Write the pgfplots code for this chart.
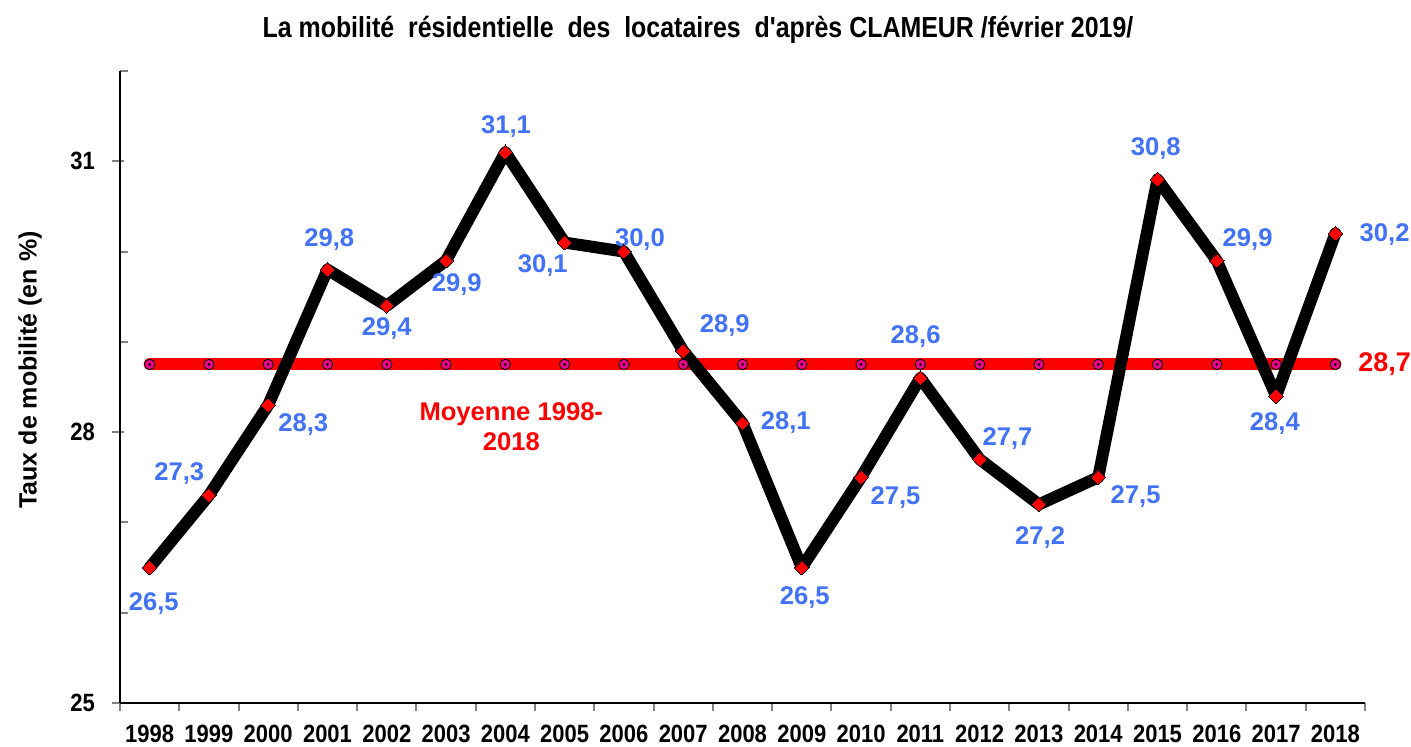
\documentclass[border=0pt]{standalone}
\usepackage{fontspec}
\setmainfont{Liberation Sans}
\newfontfamily\narrow[FakeStretch=0.88]{Liberation Sans}
\newfontfamily\titlefont[FakeStretch=0.86]{Liberation Sans}
\usepackage{pgfplots}
\pgfplotsset{compat=1.18}
\definecolor{lblue}{RGB}{66,114,245}
\tikzset{lbl/.style={font=\bfseries\fontsize{12.8}{15}\selectfont, text=lblue}}

\pgfplotstableread{
i v
0 26.5
1 27.3
2 28.3
3 29.8
4 29.4
5 29.9
6 31.1
7 30.1
8 30.0
9 28.9
10 28.1
11 26.5
12 27.5
13 28.6
14 27.7
15 27.2
16 27.5
17 30.8
18 29.9
19 28.4
20 30.2
}\datatable

\pgfplotstableread{
i m
0 28.75
1 28.75
2 28.75
3 28.75
4 28.75
5 28.75
6 28.75
7 28.75
8 28.75
9 28.75
10 28.75
11 28.75
12 28.75
13 28.75
14 28.75
15 28.75
16 28.75
17 28.75
18 28.75
19 28.75
20 28.75
}\meantable

\begin{document}
\begin{tikzpicture}
\begin{axis}[
  at={(0,0)}, anchor=south west,
  scale only axis, width=622.5pt, height=316pt,
  xmin=-0.5, xmax=20.5, ymin=25, ymax=32,
  clip=false,
  axis x line*=bottom, axis y line*=left,
  axis line style={line width=1pt, -},
  tick align=outside,
  xtick={0,...,20},
  xticklabels={1998,1999,2000,2001,2002,2003,2004,2005,2006,2007,2008,2009,2010,2011,2012,2013,2014,2015,2016,2017,2018},
  major x tick style={draw=none},
  minor xtick={-0.5,0.5,...,20.5},
  minor x tick style={line width=1pt},
  minor tick length=4pt,
  ytick={25,28,31},
  minor ytick={26,27,29,30,32},
  major tick length=6pt,
  major y tick style={line width=1pt, xshift=2pt},
  minor y tick style={line width=1pt, xshift=4pt},
  tick label style={font=\narrow\bfseries\fontsize{12.5}{14}\selectfont},
  /pgf/number format/assume math mode=true,
  yticklabel style={xshift=-3pt},
  xticklabel style={yshift=-1.5pt},
]
\addplot[red, line width=6pt, line cap=round] table[x=i, y=m] {\meantable};
\addplot[black, line width=6pt, line join=round, line cap=round,
  mark=square*, mark size=2.6pt, mark options={fill=red, draw=none, rotate=45, line width=0pt}]
  table[x=i, y=v] {\datatable};
\addplot[only marks, mark=*, mark size=2.6pt, mark options={fill=magenta, draw=none}]
  table[x=i, y=m] {\meantable};
\addplot[only marks, mark=*, mark size=0.45pt, mark options={fill=black, draw=none}]
  table[x=i, y=m] {\meantable};

\node[lbl] at (axis cs:0.07,26.10) {26,5};
\node[lbl] at (axis cs:0.50,27.54) {27,3};
\node[lbl] at (axis cs:2.59,28.08) {28,3};
\node[lbl] at (axis cs:3.03,30.13) {29,8};
\node[lbl] at (axis cs:4.00,29.15) {29,4};
\node[lbl] at (axis cs:5.18,29.63) {29,9};
\node[lbl] at (axis cs:6.01,31.38) {31,1};
\node[lbl] at (axis cs:6.63,29.85) {30,1};
\node[lbl] at (axis cs:8.27,30.13) {30,0};
\node[lbl] at (axis cs:9.70,29.18) {28,9};
\node[lbl] at (axis cs:10.73,28.11) {28,1};
\node[lbl] at (axis cs:11.05,26.17) {26,5};
\node[lbl] at (axis cs:12.58,27.28) {27,5};
\node[lbl] at (axis cs:12.92,29.06) {28,6};
\node[lbl] at (axis cs:14.47,27.93) {27,7};
\node[lbl] at (axis cs:15.02,26.83) {27,2};
\node[lbl] at (axis cs:16.63,27.29) {27,5};
\node[lbl] at (axis cs:16.97,31.14) {30,8};
\node[lbl] at (axis cs:18.52,30.13) {29,9};
\node[lbl] at (axis cs:18.98,28.09) {28,4};
\node[lbl] at (axis cs:20.83,30.19) {30,2};
\node[font=\bfseries\fontsize{13.5}{15}\selectfont, text=red] at (axis cs:20.83,28.75) {28,7};
\node[font=\bfseries\fontsize{12.8}{15}\selectfont, text=red, align=center] at (axis cs:6.10,28.06) {Moyenne 1998-\\2018};
\end{axis}
\node[font=\titlefont\bfseries\fontsize{14.5}{16}\selectfont] at (289pt,336.5pt) {La mobilité\ \ résidentielle\ \ des\ \ locataires\ \ d'après\ CLAMEUR /février 2019/};
\node[rotate=90, font=\bfseries\fontsize{12.5}{15}\selectfont] at (-45pt,166.5pt) {Taux de mobilité (en \%)};
\pgfresetboundingbox
\path[use as bounding box] (-60pt,-21.5pt) rectangle (645.5pt,351.5pt);
\end{tikzpicture}
\end{document}
